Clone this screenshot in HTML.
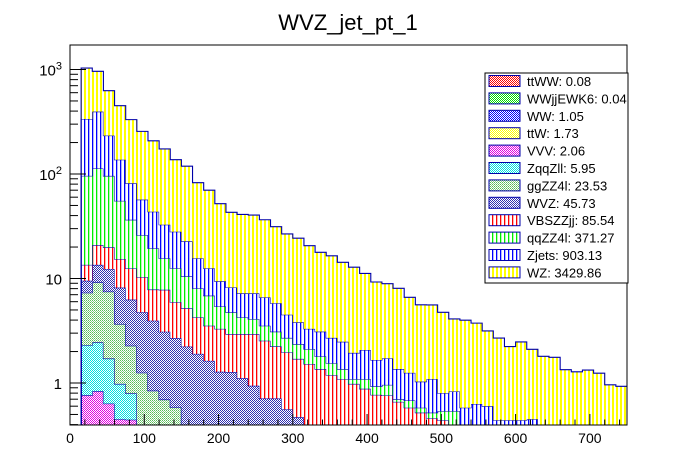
<!DOCTYPE html>
<html><head><meta charset="utf-8"><style>
html,body{margin:0;padding:0;background:#fff;}
svg{display:block;font-family:"Liberation Sans",Arial,sans-serif;}
</style></head><body>
<svg id="chart" width="696" height="472" viewBox="0 0 696 472" xmlns="http://www.w3.org/2000/svg">
<defs>
<pattern id="p-vy" width="4" height="4" patternUnits="userSpaceOnUse"><rect width="4" height="4" fill="#fff"/><rect x="0" width="2" height="4" fill="#ffff00"/></pattern>
<pattern id="p-vb" width="4" height="4" patternUnits="userSpaceOnUse"><rect width="4" height="4" fill="#fff"/><rect x="0" width="1.3" height="4" fill="#0000ff"/></pattern>
<pattern id="p-vg" width="4" height="4" patternUnits="userSpaceOnUse"><rect width="4" height="4" fill="#fff"/><rect x="0" width="1.3" height="4" fill="#00ee00"/></pattern>
<pattern id="p-vr" width="4" height="4" patternUnits="userSpaceOnUse"><rect width="4" height="4" fill="#fff"/><rect x="0" width="1.3" height="4" fill="#ff0000"/></pattern>
<pattern id="p-cnavy" width="2" height="2" patternUnits="userSpaceOnUse"><rect width="2" height="2" fill="#fff"/><rect width="1" height="1" fill="#3030b0"/><rect x="1" y="1" width="1" height="1" fill="#3030b0"/></pattern>
<pattern id="p-cgg" width="2" height="2" patternUnits="userSpaceOnUse"><rect width="2" height="2" fill="#fff"/><rect width="1" height="1" fill="#55bb55"/><rect x="1" y="1" width="1" height="1" fill="#88cc88"/></pattern>
<pattern id="p-ccy" width="2" height="2" patternUnits="userSpaceOnUse"><rect width="2" height="2" fill="#fff"/><rect width="1" height="1" fill="#00e0e0"/><rect x="1" y="1" width="1" height="1" fill="#00e0e0"/></pattern>
<pattern id="p-cmg" width="2" height="2" patternUnits="userSpaceOnUse"><rect width="2" height="2" fill="#fff"/><rect width="1" height="1" fill="#e000e0"/><rect x="1" y="1" width="1" height="1" fill="#e000e0"/></pattern>
<pattern id="p-cyl" width="2" height="2" patternUnits="userSpaceOnUse"><rect width="2" height="2" fill="#fff"/><rect width="1" height="1" fill="#ffff00"/><rect x="1" y="1" width="1" height="1" fill="#ffff00"/></pattern>
<pattern id="p-cbl" width="2" height="2" patternUnits="userSpaceOnUse"><rect width="2" height="2" fill="#fff"/><rect width="1" height="1" fill="#0000ff"/><rect x="1" y="1" width="1" height="1" fill="#0000ff"/></pattern>
<pattern id="p-cgr" width="2" height="2" patternUnits="userSpaceOnUse"><rect width="2" height="2" fill="#fff"/><rect width="1" height="1" fill="#00dd00"/><rect x="1" y="1" width="1" height="1" fill="#00dd00"/></pattern>
<pattern id="p-crd" width="2" height="2" patternUnits="userSpaceOnUse"><rect width="2" height="2" fill="#fff"/><rect width="1" height="1" fill="#ff0000"/><rect x="1" y="1" width="1" height="1" fill="#ff0000"/></pattern>
</defs>
<text x="348" y="30" font-size="22" text-anchor="middle">WVZ_jet_pt_1</text>
<g id="plot"></g>
<g id="axes"></g>
<g id="legend"></g>
</svg>
<script>
// bin edges: 0..750 in steps of 15 (50 bins); bin 0 is empty
const binWidth = 15;
const ttWW   = [0,0.01,0.01,0.01,0.005,0.005,0.005,0.005,0.005,0.005,0,0,0,0,0,0,0,0,0,0,0,0,0,0,0,0,0,0,0,0,0,0,0,0,0,0,0,0,0,0,0,0,0,0,0,0,0,0,0,0];
const WWjj   = [0,0.005,0.005,0.005,0.005,0,0,0,0,0,0,0,0,0,0,0,0,0,0,0,0,0,0,0,0,0,0,0,0,0,0,0,0,0,0,0,0,0,0,0,0,0,0,0,0,0,0,0,0,0];
const WW     = [0,0.08,0.1,0.1,0.08,0.06,0.05,0.04,0.03,0.03,0.03,0.03,0.03,0.03,0.03,0.03,0.03,0.03,0.03,0.03,0.03,0.03,0.03,0.03,0.03,0.03,0.03,0.03,0.03,0.03,0.03,0.03,0.03,0.03,0.03,0.03,0.03,0.03,0.03,0.03,0.03,0.03,0.03,0.03,0.03,0.03,0.03,0.03,0.03,0.03];
const ttW    = [0,0.15,0.2,0.15,0.12,0.1,0.08,0.06,0.05,0.05,0.05,0.05,0.05,0.05,0.05,0.05,0.05,0.05,0.05,0.05,0.05,0.05,0.05,0.05,0.05,0.05,0.05,0.05,0.05,0.05,0.05,0.05,0.05,0.05,0.05,0.05,0.05,0.05,0.05,0.05,0.05,0.05,0.05,0.05,0.05,0.05,0.05,0.05,0.05,0.05];
const VVV    = [0,0.52,0.52,0.37,0.24,0.28,0.03,0.03,0.03,0.03,0.02,0.02,0.02,0.02,0.02,0.02,0.02,0.02,0.02,0.02,0.02,0.02,0.02,0.02,0.02,0.02,0.02,0.02,0.02,0.02,0.02,0.02,0.02,0.02,0.02,0.02,0.02,0.02,0.02,0.02,0.02,0.02,0.02,0.02,0.02,0.02,0.02,0.02,0.02,0.02];
const ZqqZll = [0,1.54,1.61,1.08,0.53,0.35,0.1,0.08,0.05,0.04,0.02,0.02,0.02,0.02,0.02,0.02,0.02,0.02,0.02,0.02,0.02,0.02,0.02,0.02,0.02,0.02,0.02,0.02,0.02,0.02,0.02,0.02,0.02,0.02,0.02,0.02,0.02,0.02,0.02,0.02,0.02,0.02,0.02,0.02,0.02,0.02,0.02,0.02,0.02,0.02];
const ggZZ4l = [0,5.0,6.75,5.78,2.69,1.48,0.99,0.63,0.53,0.43,0.08,0.08,0.08,0.08,0.08,0.08,0.08,0.08,0.08,0.08,0.08,0.08,0.08,0.08,0.08,0.08,0.08,0.08,0.08,0.08,0.08,0.08,0.08,0.08,0.08,0.08,0.08,0.08,0.08,0.08,0.08,0.08,0.08,0.08,0.08,0.08,0.08,0.08,0.08,0.08];
const WVZ    = [0,2.2,4.3,4.8,4.5,4.0,3.5,3.1,2.4,2.1,2.03,1.7,1.43,1.08,1.07,0.91,0.74,0.51,0.51,0.36,0.27,0.05,0.05,0.05,0.05,0.05,0.05,0.05,0.05,0.05,0.05,0.05,0.05,0.05,0.05,0.05,0.05,0.05,0.05,0.05,0.05,0.05,0.05,0.05,0.05,0.05,0.05,0.05,0.05,0.05];
const VBSZZjj= [0,4.0,7.4,7.6,7.2,6.2,5.55,3.9,4.7,3.26,2.97,2.35,1.9,2.02,1.67,1.83,2.0,1.83,1.53,1.41,1.23,1.27,1.11,0.94,0.84,0.73,0.63,0.52,0.51,0.41,0.33,0.27,0.21,0.19,0.02,0.02,0.02,0.02,0.02,0.02,0.02,0.02,0.02,0.02,0.02,0.02,0.02,0.02,0.02,0.02];
const qqZZ4l = [0,82.5,92,76,40,24,15.7,11.6,7.8,6.6,5.3,3.8,3.32,2.1,1.81,1.31,1.16,0.99,0.86,0.73,0.66,0.59,0.44,0.36,0.27,0.11,0.21,0.16,0.2,0.04,0.1,0.06,0.06,0.1,0.27,0.01,0.01,0.01,0.01,0.01,0.01,0.01,0.01,0.01,0.01,0.01,0.01,0.01,0.01,0.01];
const Zjets  = [0,240,282,137,81.5,45,30.8,24.1,17.1,15.5,12.2,7.55,5.65,4.0,3.45,2.95,3.1,3.07,2.7,1.8,1.44,1.19,1.3,1.15,1.12,0.85,0.98,0.73,0.76,0.66,0.57,0.45,0.57,0.26,0.29,0.3,0.35,0.32,0.16,0.16,0.16,0.17,0,0,0,0,0,0,0,0];
const WZ     = [0,697,566,394,314,250,199,164,141,109,96,67,57.5,42.6,34.8,33.8,33.3,29.9,25.5,22.2,20.5,17.3,14.7,13.8,11.8,10.9,9.1,7.6,7.2,6.7,5.35,4.57,4.5,3.95,3.27,3.41,3.11,2.55,2.25,1.79,2.03,1.65,1.52,1.48,1.06,1.0,1.05,0.96,0.68,0.65];
const seriesNames = ["ttWW","WWjjEWK6","WW","ttW","VVV","ZqqZll","ggZZ4l","WVZ","VBSZZjj","qqZZ4l","Zjets","WZ"];
const seriesData = [ttWW,WWjj,WW,ttW,VVV,ZqqZll,ggZZ4l,WVZ,VBSZZjj,qqZZ4l,Zjets,WZ];
const legendTotals = ["0.08","0.04","1.05","1.73","2.06","5.95","23.53","45.73","85.54","371.27","903.13","3429.86"];
const xTicks = [0,100,200,300,400,500,600,700];
const yDecades = [1,10,100,1000];
const yDecadeLabels = ["1","10","10²","10³"];

const fills = ["url(#p-crd)","url(#p-cgr)","url(#p-cbl)","url(#p-cyl)","url(#p-cmg)","url(#p-ccy)","url(#p-cgg)","url(#p-cnavy)","url(#p-vr)","url(#p-vg)","url(#p-vb)","url(#p-vy)"];
const NS="http://www.w3.org/2000/svg";
const L=70,R=627,T=45,B=425, XMAX=750;
function xs(v){return L+(R-L)*v/XMAX;}
function ys(v){ if(v<=0) return B; const y=383-104.5*Math.log10(v); return Math.max(T,Math.min(B,y)); }
function mk(tag,attrs,parent){const e=document.createElementNS(NS,tag);for(const k in attrs)e.setAttribute(k,attrs[k]);parent.appendChild(e);return e;}

const plot=document.getElementById('plot');
const nb=WZ.length;
let lower=new Array(nb).fill(0);
seriesData.forEach((arr,si)=>{
  const upper=lower.map((v,i)=>v+arr[i]);
  let d="";
  for(let i=0;i<nb;i++){const x0=xs(i*binWidth),x1=xs((i+1)*binWidth),y=ys(upper[i]);d+=(i===0?"M":"L")+x0+","+y+"L"+x1+","+y;}
  for(let i=nb-1;i>=0;i--){const x0=xs(i*binWidth),x1=xs((i+1)*binWidth),y=ys(lower[i]);d+="L"+x1+","+y+"L"+x0+","+y;}
  d+="Z";
  const p=mk('path',{d:d,fill:fills[si],stroke:"none"},plot);
  
  
  let od="";
  for(let i=0;i<nb;i++){const x0=xs(i*binWidth),x1=xs((i+1)*binWidth),y=ys(upper[i]);od+=(i===0?"M":"L")+x0+","+y+"L"+x1+","+y;}
  const o=mk('path',{d:od,fill:"none",stroke:"#0000a8","stroke-width":"1.1"},plot);
  
  
  lower=upper;
});

const axes=document.getElementById('axes');
const fr=mk('rect',{x:L,y:T,width:R-L,height:B-T,fill:"none",stroke:"#000","stroke-width":"1"},axes);


for(let v=0;v<=XMAX;v+=20){
  const major=(v%100===0);
  const t=mk('line',{x1:xs(v),x2:xs(v),y1:B,y2:B-(major?11:5.5),stroke:"#000"},axes);
  
  
}
xTicks.forEach(v=>{
  const t=mk('text',{x:xs(v),y:443,"font-size":"14","text-anchor":"middle"},axes);
  t.textContent=String(v);
  
  
});
for(let dec=0.1;dec<=1000;dec*=10){
  for(let m=1;m<=9;m++){
    const v=dec*m; const y=383-104.5*Math.log10(v);
    if(y<T||y>B) continue;
    const major=(m===1);
    const t=mk('line',{x1:L,x2:L+(major?16:8),y1:y,y2:y,stroke:"#000"},axes);
    
    
  }
}
yDecades.forEach((v,i)=>{
  const y=ys(v);
  const t=mk('text',{x:62,y:y+6,"font-size":"15","text-anchor":"end"},axes);
  const lab=yDecadeLabels[i];
  if(lab.length>2 && lab.startsWith("10")){
    t.textContent="10";
    const s=mk('tspan',{"font-size":"11",dy:"-6"},t);
    s.textContent=lab.slice(2)==="²"?"2":"3";
  } else t.textContent=lab;
  
  
});

const leg=document.getElementById('legend');
const lb=mk('rect',{x:485,y:73,width:143,height:210,fill:"#fff",stroke:"#000","stroke-width":"1"},leg);


seriesNames.forEach((n,i)=>{
  const y=81+i*17.4;
  const g=mk('g',{},leg);
  
  
  mk('rect',{x:489,y:y-5.5,width:31,height:11,fill:fills[i],stroke:"#0000a8","stroke-width":"1"},g);
  const t=mk('text',{x:527,y:y+5,"font-size":"13"},g);
  t.textContent=n+": "+legendTotals[i];
});
</script>
</body></html>
